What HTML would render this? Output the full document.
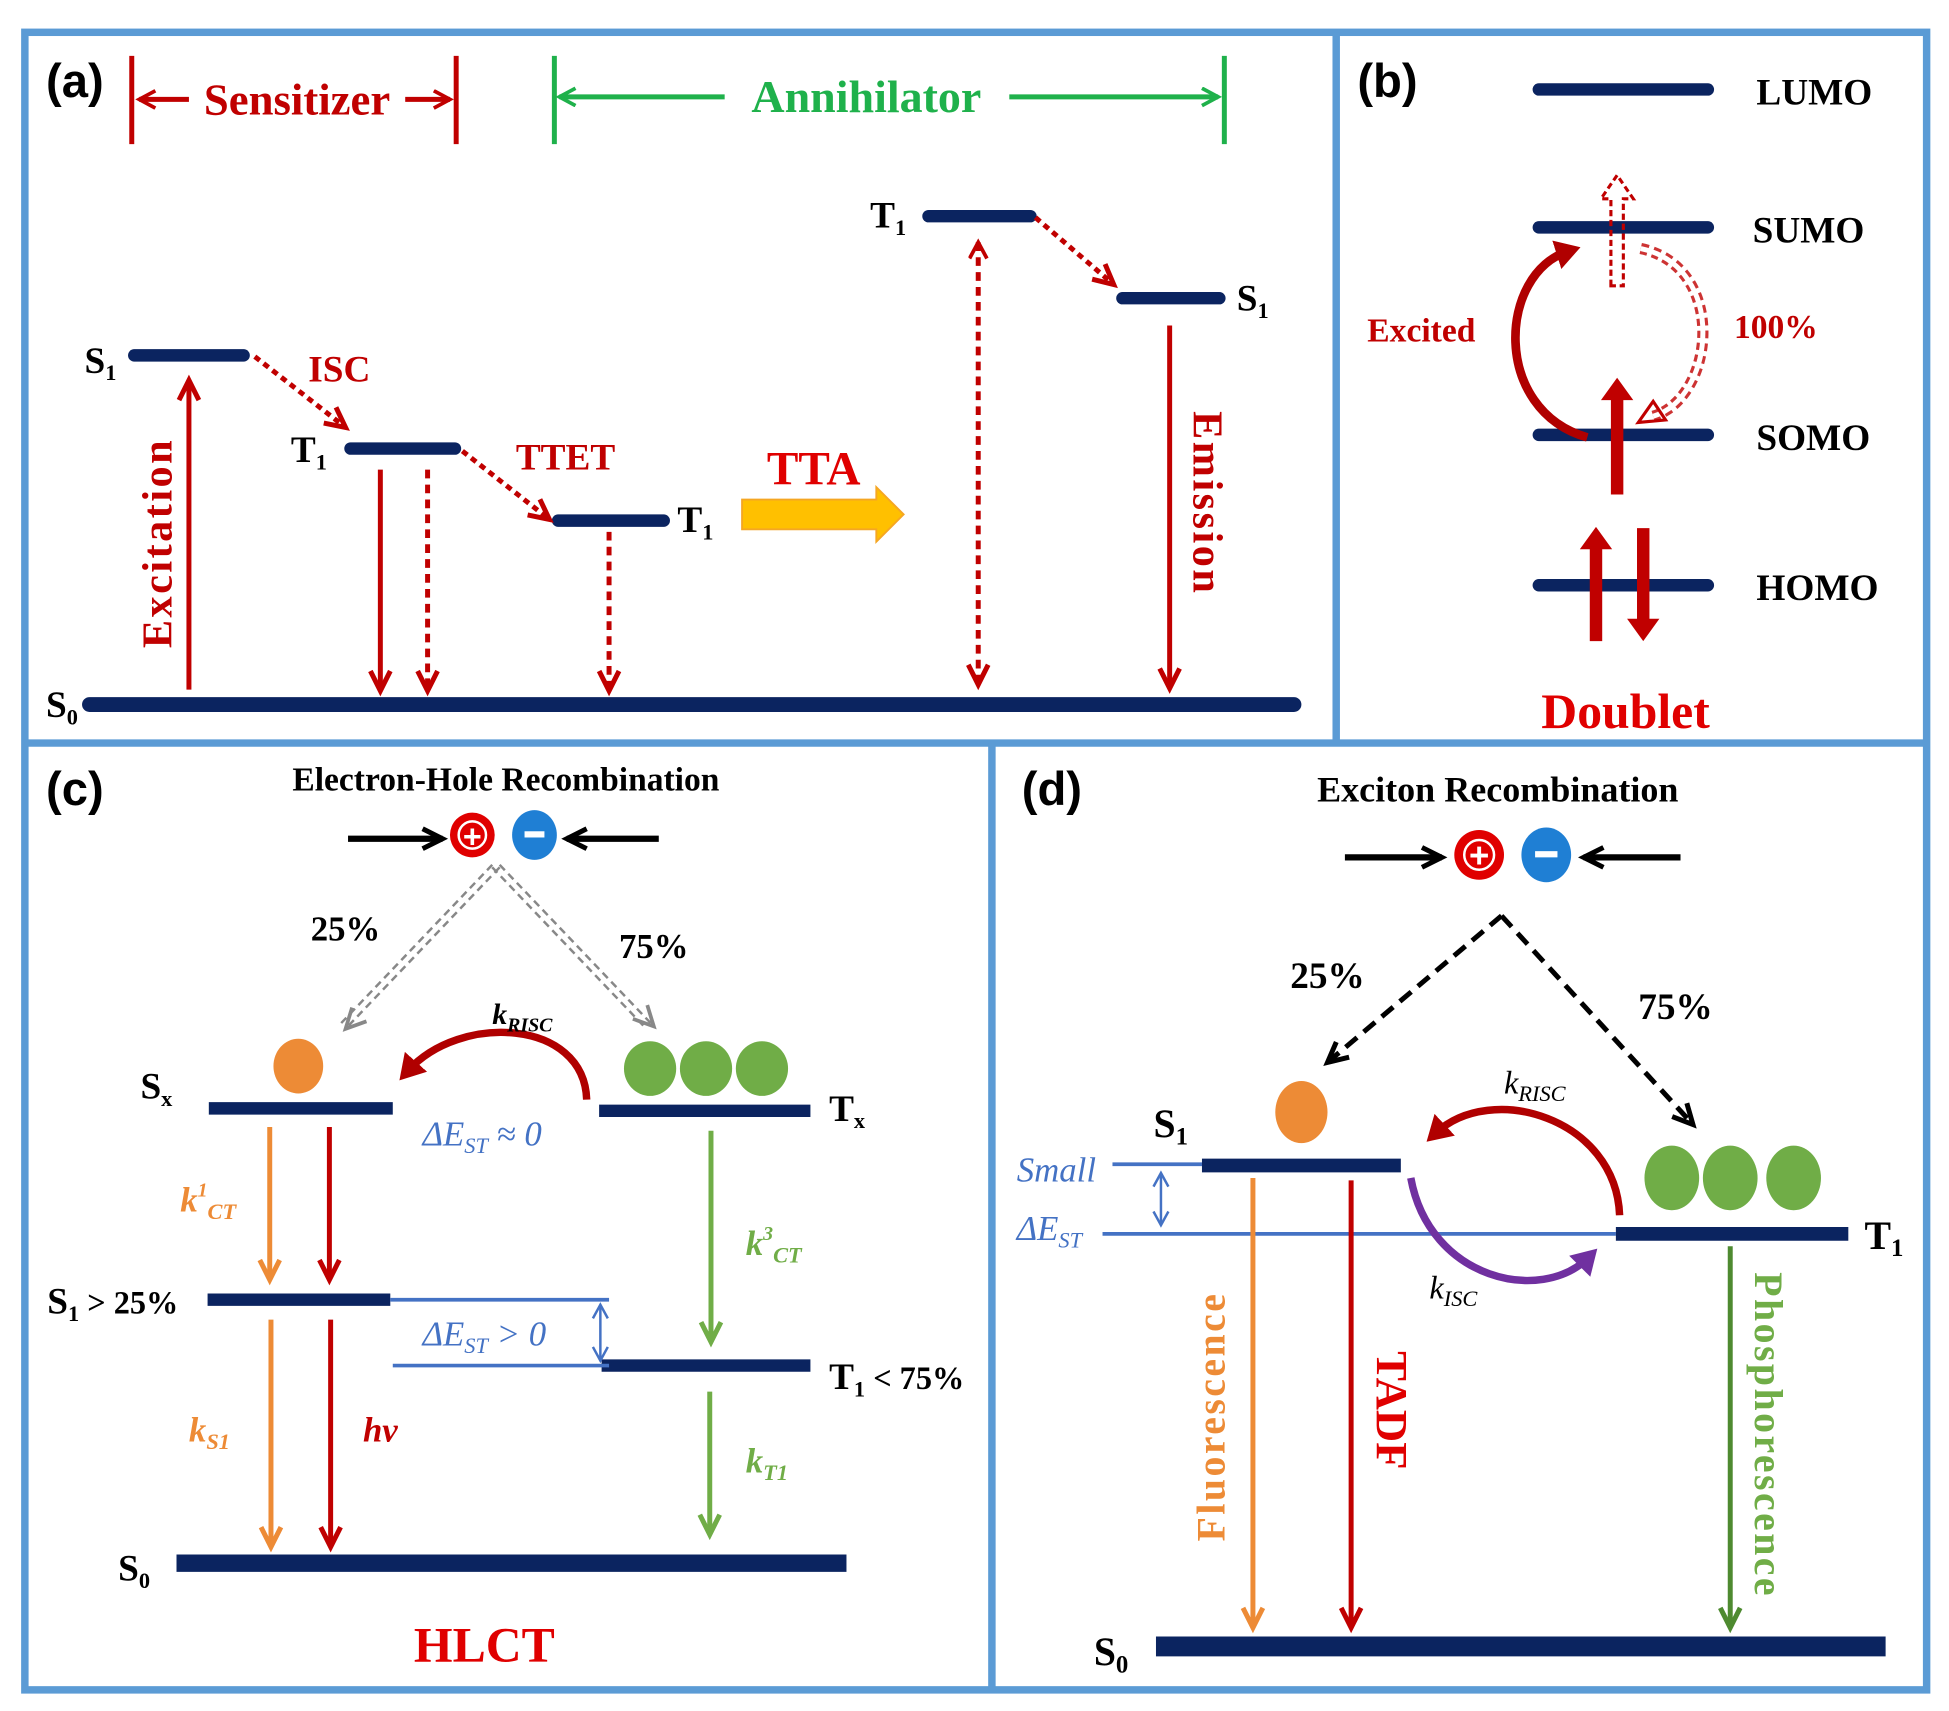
<!DOCTYPE html>
<html><head><meta charset="utf-8"><style>
html,body{margin:0;padding:0;background:#fff}
svg{display:block}
text{font-family:"Liberation Serif",serif;font-weight:bold}
</style></head><body>
<svg width="1949" height="1711" viewBox="0 0 1568 1377" preserveAspectRatio="none" xmlns="http://www.w3.org/2000/svg">
<defs>
<marker id="mr" markerUnits="userSpaceOnUse" markerWidth="24" markerHeight="24" refX="18" refY="10" orient="auto"><path d="M2,2 L18,10 L2,18" fill="none" stroke="#c00000" stroke-width="4"/></marker>
<marker id="mo" markerUnits="userSpaceOnUse" markerWidth="24" markerHeight="24" refX="18" refY="10" orient="auto"><path d="M2,2 L18,10 L2,18" fill="none" stroke="#ed8b36" stroke-width="4"/></marker>
<marker id="mg" markerUnits="userSpaceOnUse" markerWidth="24" markerHeight="24" refX="18" refY="10" orient="auto"><path d="M2,2 L18,10 L2,18" fill="none" stroke="#70ad47" stroke-width="4"/></marker>
<marker id="mdg" markerUnits="userSpaceOnUse" markerWidth="24" markerHeight="24" refX="18" refY="10" orient="auto"><path d="M2,2 L18,10 L2,18" fill="none" stroke="#4e8a30" stroke-width="4"/></marker>
<marker id="mk" markerUnits="userSpaceOnUse" markerWidth="24" markerHeight="24" refX="18" refY="10" orient="auto"><path d="M2,2 L18,10 L2,18" fill="none" stroke="#000" stroke-width="4"/></marker>
<marker id="mgr" markerUnits="userSpaceOnUse" markerWidth="24" markerHeight="24" refX="18" refY="10" orient="auto"><path d="M2,2 L18,10 L2,18" fill="none" stroke="#888" stroke-width="3"/></marker>
<marker id="mb" markerUnits="userSpaceOnUse" markerWidth="16" markerHeight="16" refX="12" refY="7" orient="auto-start-reverse"><path d="M1,1 L12,7 L1,13" fill="none" stroke="#4472c4" stroke-width="2"/></marker>
<marker id="mrs" markerUnits="userSpaceOnUse" markerWidth="20" markerHeight="20" refX="14" refY="8" orient="auto-start-reverse"><path d="M1,1 L14,8 L1,15" fill="none" stroke="#c00000" stroke-width="3"/></marker>
<marker id="mgs" markerUnits="userSpaceOnUse" markerWidth="20" markerHeight="20" refX="14" refY="8" orient="auto"><path d="M1,1 L14,8 L1,15" fill="none" stroke="#1fb14b" stroke-width="3"/></marker>
<marker id="mgs2" markerUnits="userSpaceOnUse" markerWidth="20" markerHeight="20" refX="14" refY="8" orient="auto-start-reverse"><path d="M1,1 L14,8 L1,15" fill="none" stroke="#1fb14b" stroke-width="3"/></marker>
<marker id="mrf" markerUnits="userSpaceOnUse" markerWidth="30" markerHeight="30" refX="10" refY="12" orient="auto"><path d="M0,0 L20,12 L0,24 Z" fill="#b00000"/></marker>
<marker id="mpf" markerUnits="userSpaceOnUse" markerWidth="30" markerHeight="30" refX="10" refY="12" orient="auto"><path d="M0,0 L20,12 L0,24 Z" fill="#7030a0"/></marker>
</defs>

<g fill="none" stroke="#5b9bd5" stroke-width="6">
<rect x="20" y="26" width="1530" height="1334"/>
<line x1="1075" y1="26" x2="1075" y2="598"/>
<line x1="20" y1="598" x2="1550" y2="598"/>
<line x1="798" y1="598" x2="798" y2="1360"/>
</g>

<!-- (a) -->
<text x="37" y="78" font-size="38" style="font-family:'Liberation Sans',sans-serif">(a)</text>
<g stroke="#c00000" stroke-width="4">
<line x1="106" y1="45" x2="106" y2="116"/><line x1="367" y1="45" x2="367" y2="116"/>
<line x1="112" y1="80" x2="152" y2="80" marker-start="url(#mrs)"/>
<line x1="326" y1="80" x2="362" y2="80" marker-end="url(#mrs)"/>
</g>
<text x="239" y="92" font-size="36" fill="#c00000" text-anchor="middle">Sensitizer</text>
<g stroke="#1fb14b" stroke-width="4">
<line x1="446" y1="45" x2="446" y2="116"/><line x1="985" y1="45" x2="985" y2="116"/>
<line x1="450" y1="78" x2="583" y2="78" marker-start="url(#mgs2)"/>
<line x1="812" y1="78" x2="980" y2="78" marker-end="url(#mgs)"/>
</g>
<text x="697" y="90" font-size="37" fill="#1fb14b" text-anchor="middle">Annihilator</text>

<g stroke="#0b2460" stroke-linecap="round">
<line x1="108" y1="286" x2="196" y2="286" stroke-width="10"/>
<line x1="282" y1="361" x2="366" y2="361" stroke-width="10"/>
<line x1="449" y1="419" x2="534" y2="419" stroke-width="10"/>
<line x1="747" y1="174" x2="829" y2="174" stroke-width="10"/>
<line x1="903" y1="240" x2="981" y2="240" stroke-width="10"/>
<line x1="72" y1="567" x2="1041" y2="567" stroke-width="12"/>
</g>
<g font-size="30" fill="#000">
<text x="68" y="300">S<tspan font-size="18" dy="6">1</tspan></text>
<text x="234" y="372">T<tspan font-size="18" dy="6">1</tspan></text>
<text x="545" y="428">T<tspan font-size="18" dy="6">1</tspan></text>
<text x="700" y="183">T<tspan font-size="18" dy="6">1</tspan></text>
<text x="995" y="250">S<tspan font-size="18" dy="6">1</tspan></text>
<text x="37" y="577">S<tspan font-size="18" dy="6">0</tspan></text>
</g>
<g stroke="#c00000" stroke-width="4" fill="none">
<line x1="152" y1="555" x2="152" y2="306" marker-end="url(#mr)"/>
<line x1="205" y1="287" x2="278" y2="344" stroke-dasharray="5,4" marker-end="url(#mr)"/>
<line x1="306" y1="378" x2="306" y2="556" marker-end="url(#mr)"/>
<line x1="344" y1="378" x2="344" y2="556" stroke-dasharray="7,5" marker-end="url(#mr)"/>
<line x1="372" y1="363" x2="442" y2="418" stroke-dasharray="5,4" marker-end="url(#mr)"/>
<line x1="490" y1="428" x2="490" y2="556" stroke-dasharray="7,5" marker-end="url(#mr)"/>
<line x1="787" y1="195" x2="787" y2="551" stroke-dasharray="7,5" marker-start="url(#mrs)" marker-end="url(#mr)"/>
<line x1="833" y1="175" x2="896" y2="229" stroke-dasharray="5,4" marker-end="url(#mr)"/>
<line x1="941" y1="262" x2="941" y2="554" marker-end="url(#mr)"/>
</g>
<text x="248" y="307" font-size="30" fill="#c00000">ISC</text>
<text x="415" y="378" font-size="30" fill="#c00000">TTET</text>
<text x="617" y="390" font-size="38" fill="#e00000">TTA</text>
<path d="M597,402 L705,402 L705,392 L727,414 L705,436 L705,426 L597,426 Z" fill="#ffc000" stroke="#f5a623" stroke-width="1.5"/>
<text transform="translate(138,437) rotate(-90)" font-size="34" fill="#c00000" text-anchor="middle" letter-spacing="2">Excitation</text>
<text transform="translate(960,405) rotate(90)" font-size="34" fill="#c00000" text-anchor="middle" letter-spacing="2">Emission</text>

<!-- (b) -->
<text x="1092" y="78" font-size="38" style="font-family:'Liberation Sans',sans-serif">(b)</text>
<g stroke="#0b2460" stroke-width="10" stroke-linecap="round">
<line x1="1238" y1="72" x2="1374" y2="72"/>
<line x1="1238" y1="183" x2="1374" y2="183"/>
<line x1="1238" y1="350" x2="1374" y2="350"/>
<line x1="1238" y1="471" x2="1374" y2="471"/>
</g>
<g font-size="30" fill="#000">
<text x="1413" y="84">LUMO</text>
<text x="1410" y="195">SUMO</text>
<text x="1413" y="362">SOMO</text>
<text x="1413" y="483">HOMO</text>
</g>
<path d="M1296,398 L1296,322 L1288,322 L1301,304 L1314,322 L1306,322 L1306,398 Z" fill="#c00000"/>
<path d="M1279,516 L1279,442 L1271,442 L1284,424 L1297,442 L1289,442 L1289,516 Z" fill="#c00000"/>
<path d="M1317,425 L1317,498 L1309,498 L1322,516 L1335,498 L1327,498 L1327,425 Z" fill="#c00000"/>
<path d="M1296,230 L1296,160 L1288,160 L1301,141 L1314,160 L1306,160 L1306,230 Z" fill="none" stroke="#c00000" stroke-width="2.5" stroke-dasharray="5,3"/>
<path d="M1277,352 C1200,330 1205,220 1262,202" fill="none" stroke="#b00000" stroke-width="7" marker-end="url(#mrf)"/>
<path d="M1320,200 C1390,215 1380,320 1330,335" fill="none" stroke="#c00000" stroke-width="9" stroke-dasharray="6,4" opacity="0.8"/>
<path d="M1320,200 C1390,215 1380,320 1330,335" fill="none" stroke="#fff" stroke-width="4"/>
<path d="M1318,340 L1330,323 L1340,338 Z" fill="none" stroke="#c00000" stroke-width="2.5"/>
<text x="1100" y="275" font-size="27" fill="#c00000">Excited</text>
<text x="1395" y="272" font-size="27" fill="#c00000">100%</text>
<text x="1240" y="586" font-size="40" fill="#e00000">Doublet</text>

<!-- (c) -->
<text x="37" y="648" font-size="38" style="font-family:'Liberation Sans',sans-serif">(c)</text>
<text x="407" y="636" font-size="27" fill="#000" text-anchor="middle">Electron-Hole Recombination</text>
<g stroke="#000" stroke-width="5">
<line x1="280" y1="675" x2="356" y2="675" marker-end="url(#mk)"/>
<line x1="530" y1="675" x2="456" y2="675" marker-end="url(#mk)"/>
</g>
<circle cx="380" cy="672" r="18" fill="#e00000"/><circle cx="380" cy="672" r="11" fill="none" stroke="#fff" stroke-width="2"/>
<text x="380" y="682" font-size="26" fill="#fff" text-anchor="middle" style="font-family:'Liberation Sans',sans-serif">+</text>
<ellipse cx="430" cy="672" rx="18" ry="20" fill="#1f7fd4"/>
<rect x="422" y="669" width="16" height="5" fill="#fff"/>
<g stroke="#888" stroke-width="2" stroke-dasharray="6,4" fill="none">
<line x1="396" y1="696" x2="272" y2="826"/><line x1="402" y1="698" x2="278" y2="828" marker-end="url(#mgr)"/>
<line x1="396" y1="698" x2="520" y2="828"/><line x1="402" y1="696" x2="526" y2="826" marker-end="url(#mgr)"/>
</g>
<text x="250" y="757" font-size="28">25%</text>
<text x="498" y="771" font-size="28">75%</text>
<ellipse cx="240" cy="858" rx="20" ry="22" fill="#ed8b36"/>
<ellipse cx="523" cy="860" rx="21" ry="22" fill="#70ad47"/>
<ellipse cx="568" cy="860" rx="21" ry="22" fill="#70ad47"/>
<ellipse cx="613" cy="860" rx="21" ry="22" fill="#70ad47"/>
<g stroke="#0b2460" stroke-width="10">
<line x1="168" y1="892" x2="316" y2="892"/>
<line x1="482" y1="894" x2="652" y2="894"/>
<line x1="167" y1="1046" x2="314" y2="1046"/>
<line x1="484" y1="1099" x2="652" y2="1099"/>
<line x1="142" y1="1258" x2="681" y2="1258" stroke-width="14"/>
</g>
<g font-size="30">
<text x="113" y="884">S<tspan font-size="18" dy="6">x</tspan></text>
<text x="667" y="902">T<tspan font-size="18" dy="6">x</tspan></text>
<text x="38" y="1057">S<tspan font-size="18" dy="6">1</tspan><tspan dy="-6" font-size="26"> &gt; 25%</tspan></text>
<text x="667" y="1118">T<tspan font-size="18" dy="6">1</tspan><tspan dy="-6" font-size="26"> &lt; 75%</tspan></text>
<text x="95" y="1272">S<tspan font-size="18" dy="6">0</tspan></text>
</g>
<path d="M472,885 C470,820 370,815 328,862" fill="none" stroke="#b00000" stroke-width="6" marker-end="url(#mrf)"/>
<text x="396" y="824" font-size="24" font-style="italic">k<tspan font-size="16" dy="6">RISC</tspan></text>
<text x="340" y="922" font-size="28" font-style="italic" fill="#4472c4" style="font-weight:normal">ΔE<tspan font-size="18" dy="6">ST</tspan><tspan dy="-6"> ≈ 0</tspan></text>
<g stroke-width="4">
<line x1="217" y1="907" x2="217" y2="1030" stroke="#ed8b36" marker-end="url(#mo)"/>
<line x1="265" y1="907" x2="265" y2="1030" stroke="#c00000" marker-end="url(#mr)"/>
<line x1="572" y1="910" x2="572" y2="1080" stroke="#70ad47" marker-end="url(#mg)"/>
<line x1="218" y1="1062" x2="218" y2="1245" stroke="#ed8b36" marker-end="url(#mo)"/>
<line x1="266" y1="1062" x2="266" y2="1245" stroke="#c00000" marker-end="url(#mr)"/>
<line x1="571" y1="1120" x2="571" y2="1235" stroke="#70ad47" marker-end="url(#mg)"/>
</g>
<g stroke="#4472c4" stroke-width="3">
<line x1="314" y1="1046" x2="490" y2="1046"/>
<line x1="316" y1="1099" x2="490" y2="1099"/>
<line x1="483" y1="1050" x2="483" y2="1095" stroke-width="2" marker-start="url(#mb)" marker-end="url(#mb)"/>
</g>
<text x="340" y="1083" font-size="28" font-style="italic" fill="#4472c4" style="font-weight:normal">ΔE<tspan font-size="18" dy="6">ST</tspan><tspan dy="-6"> &gt; 0</tspan></text>
<text x="145" y="975" font-size="28" font-style="italic" fill="#ed8b36">k<tspan font-size="16" dy="-12">1</tspan><tspan font-size="18" dy="18">CT</tspan></text>
<text x="600" y="1010" font-size="28" font-style="italic" fill="#70ad47">k<tspan font-size="16" dy="-12">3</tspan><tspan font-size="18" dy="18">CT</tspan></text>
<text x="152" y="1160" font-size="28" font-style="italic" fill="#ed8b36">k<tspan font-size="18" dy="6">S1</tspan></text>
<text x="292" y="1160" font-size="28" font-style="italic" fill="#c00000">hv</text>
<text x="600" y="1185" font-size="28" font-style="italic" fill="#70ad47">k<tspan font-size="18" dy="6">T1</tspan></text>
<text x="333" y="1337" font-size="40" fill="#e00000">HLCT</text>

<!-- (d) -->
<text x="822" y="648" font-size="38" style="font-family:'Liberation Sans',sans-serif">(d)</text>
<text x="1205" y="645" font-size="29" text-anchor="middle">Exciton Recombination</text>
<g stroke="#000" stroke-width="5">
<line x1="1082" y1="690" x2="1160" y2="690" marker-end="url(#mk)"/>
<line x1="1352" y1="690" x2="1274" y2="690" marker-end="url(#mk)"/>
</g>
<circle cx="1190" cy="688" r="20" fill="#e00000"/><circle cx="1190" cy="688" r="12" fill="none" stroke="#fff" stroke-width="2"/>
<text x="1190" y="698" font-size="28" fill="#fff" text-anchor="middle" style="font-family:'Liberation Sans',sans-serif">+</text>
<ellipse cx="1244" cy="688" rx="20" ry="22" fill="#1f7fd4"/>
<rect x="1235" y="685" width="18" height="5" fill="#fff"/>
<g stroke="#000" stroke-width="4" stroke-dasharray="12,7" fill="none">
<line x1="1208" y1="737" x2="1068" y2="855" marker-end="url(#mk)"/>
<line x1="1208" y1="737" x2="1362" y2="905" marker-end="url(#mk)"/>
</g>
<text x="1038" y="795" font-size="30">25%</text>
<text x="1318" y="820" font-size="30">75%</text>
<ellipse cx="1047" cy="895" rx="21" ry="25" fill="#ed8b36"/>
<ellipse cx="1345" cy="948" rx="22" ry="26" fill="#70ad47"/>
<ellipse cx="1392" cy="948" rx="22" ry="26" fill="#70ad47"/>
<ellipse cx="1443" cy="948" rx="22" ry="26" fill="#70ad47"/>
<g stroke="#4472c4" stroke-width="3">
<line x1="895" y1="937" x2="967" y2="937"/>
<line x1="887" y1="993" x2="1300" y2="993"/>
<line x1="934" y1="944" x2="934" y2="986" stroke-width="2" marker-start="url(#mb)" marker-end="url(#mb)"/>
</g>
<g stroke="#0b2460">
<line x1="967" y1="938" x2="1127" y2="938" stroke-width="11"/>
<line x1="1300" y1="993" x2="1487" y2="993" stroke-width="11"/>
<line x1="930" y1="1325" x2="1517" y2="1325" stroke-width="16"/>
</g>
<g font-size="32">
<text x="928" y="915">S<tspan font-size="20" dy="6">1</tspan></text>
<text x="1500" y="1005">T<tspan font-size="20" dy="6">1</tspan></text>
<text x="880" y="1340">S<tspan font-size="20" dy="6">0</tspan></text>
</g>
<text x="818" y="951" font-size="28" font-style="italic" fill="#4472c4" style="font-weight:normal">Small</text>
<text x="818" y="998" font-size="28" font-style="italic" fill="#4472c4" style="font-weight:normal">ΔE<tspan font-size="18" dy="6">ST</tspan></text>
<path d="M1303,978 C1300,900 1200,870 1155,912" fill="none" stroke="#b00000" stroke-width="6" marker-end="url(#mrf)"/>
<path d="M1135,948 C1150,1030 1240,1050 1278,1012" fill="none" stroke="#7030a0" stroke-width="6" marker-end="url(#mpf)"/>
<text x="1210" y="880" font-size="26" font-style="italic" style="font-weight:normal">k<tspan font-size="18" dy="6">RISC</tspan></text>
<text x="1150" y="1045" font-size="26" font-style="italic" style="font-weight:normal">k<tspan font-size="18" dy="6">ISC</tspan></text>
<g stroke-width="4">
<line x1="1008" y1="948" x2="1008" y2="1310" stroke="#ed8b36" marker-end="url(#mo)"/>
<line x1="1087" y1="950" x2="1087" y2="1310" stroke="#c00000" marker-end="url(#mr)"/>
<line x1="1392" y1="1003" x2="1392" y2="1310" stroke="#4e8a30" marker-end="url(#mdg)"/>
</g>
<text transform="translate(985,1140) rotate(-90)" font-size="32" fill="#ed8b36" text-anchor="middle" letter-spacing="2">Fluorescence</text>
<text transform="translate(1108,1135) rotate(90)" font-size="36" fill="#e00000" text-anchor="middle">TADF</text>
<text transform="translate(1412,1155) rotate(90)" font-size="32" fill="#70ad47" text-anchor="middle" letter-spacing="2">Phosphorescence</text>
</svg>
</body></html>
